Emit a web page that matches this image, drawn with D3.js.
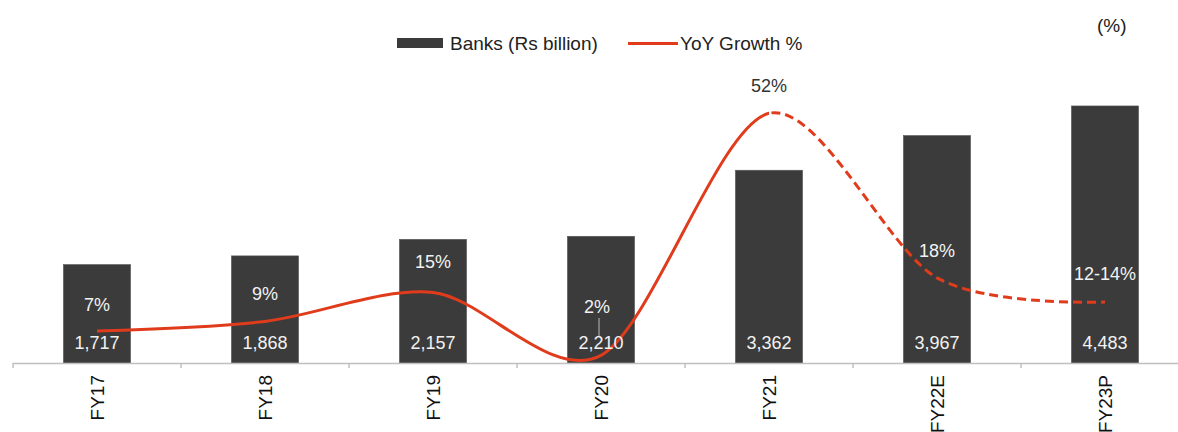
<!DOCTYPE html>
<html>
<head>
<meta charset="utf-8">
<script src="https://cdn.jsdelivr.net/npm/d3@7"></script>
<style>
  body { margin: 0; background: #fff; }
  svg text { font-family: "Liberation Sans", Arial, sans-serif; }
</style>
</head>
<body>
<svg id="chart" width="1178" height="432"></svg>
<script>
var categories = ["FY17", "FY18", "FY19", "FY20", "FY21", "FY22E", "FY23P"];
var banks = [1717, 1868, 2157, 2210, 3362, 3967, 4483];
var growth = [7, 9, 15, 2, 52, 18, 13];
var growthLabels = ["7%", "9%", "15%", "2%", "52%", "18%", "12-14%"];

var barColor = "#3b3b3b";
var lineColor = "#e03c1c";

var svg = d3.select("svg#chart");
var baseY = 363;

// x scale over categories
var x = d3.scaleBand()
  .domain(categories)
  .range([13, 1189])
  .paddingInner(0.6)
  .paddingOuter(0.3);
var step = x.step();
function cx(c) { return x(c) + x.bandwidth() / 2; }

// left (bars) and right (growth) scales
var y = d3.scaleLinear().domain([0, 5000]).range([baseY, 76.3]);
var y2 = d3.scaleLinear().domain([0, 60]).range([365, 74.6]);

// bars
svg.append("g")
  .selectAll("rect")
  .data(categories)
  .enter()
  .append("rect")
  .attr("x", function(d) { return x(d); })
  .attr("y", function(d, i) { return y(banks[i]); })
  .attr("width", x.bandwidth())
  .attr("height", function(d, i) { return baseY - y(banks[i]); })
  .attr("fill", barColor)
  .attr("stroke", "#5a5a5a")
  .attr("stroke-width", 0.6);

// axis line + ticks between categories
var axis = svg.append("g");
axis.append("line")
  .attr("x1", 13).attr("x2", 1178)
  .attr("y1", baseY + 0.5).attr("y2", baseY + 0.5)
  .attr("stroke", "#bfbfbf").attr("stroke-width", 1.5);
axis.selectAll("line.tick")
  .data(categories)
  .enter()
  .append("line")
  .attr("class", "tick")
  .attr("x1", function(d) { return cx(d) - step / 2; })
  .attr("x2", function(d) { return cx(d) - step / 2; })
  .attr("y1", baseY).attr("y2", baseY + 5)
  .attr("stroke", "#bfbfbf").attr("stroke-width", 1.5);

// category labels (rotated)
axis.selectAll("text")
  .data(categories)
  .enter()
  .append("text")
  .attr("transform", function(d) {
    return "translate(" + (cx(d) + 7) + "," + 375 + ") rotate(-90)";
  })
  .attr("text-anchor", "end")
  .style("font-size", "19px")
  .attr("fill", "#111")
  .text(function(d) { return d; });

// growth line: solid up to FY21, dashed after
var pts = categories.map(function(c, i) { return [cx(c), y2(growth[i])]; });
var line = d3.line().curve(d3.curveCardinal.tension(0.1));
var splitX = cx("FY21");

var defs = svg.append("defs");
defs.append("clipPath").attr("id", "clipSolid")
  .append("rect").attr("x", 0).attr("y", 0).attr("width", splitX).attr("height", 432);
defs.append("clipPath").attr("id", "clipDash")
  .append("rect").attr("x", splitX).attr("y", 0).attr("width", 1178 - splitX).attr("height", 432);

svg.append("path")
  .attr("d", line(pts))
  .attr("fill", "none")
  .attr("stroke", lineColor)
  .attr("stroke-width", 3)
  .attr("clip-path", "url(#clipSolid)");

svg.append("path")
  .attr("d", line(pts))
  .attr("fill", "none")
  .attr("stroke", lineColor)
  .attr("stroke-width", 3)
  .attr("stroke-dasharray", "9,5")
  .attr("clip-path", "url(#clipDash)");

// value labels inside bars
svg.append("g")
  .selectAll("text")
  .data(categories)
  .enter()
  .append("text")
  .attr("x", function(d) { return cx(d); })
  .attr("y", 349)
  .attr("text-anchor", "middle")
  .style("font-size", "18px")
  .attr("fill", "#f2f2f2")
  .text(function(d, i) { return d3.format(",")(banks[i]); });

// growth labels
var pctY = [305, 294, 262, 307, 86, 251, 274];
var pctDx = [0, 0, 0, -4, 0, 0, 0];
svg.append("g")
  .selectAll("text")
  .data(categories)
  .enter()
  .append("text")
  .attr("x", function(d, i) { return cx(d) + pctDx[i]; })
  .attr("y", function(d, i) { return pctY[i] + 6; })
  .attr("text-anchor", "middle")
  .style("font-size", "18px")
  .attr("fill", function(d, i) { return i === 4 ? "#333" : "#f2f2f2"; })
  .text(function(d, i) { return growthLabels[i]; });

// leader line for FY20 label
svg.append("line")
  .attr("x1", cx("FY20") - 2).attr("x2", cx("FY20") - 2)
  .attr("y1", 318).attr("y2", 336)
  .attr("stroke", "#bbb").attr("stroke-width", 1);

// legend
var legend = svg.append("g");
legend.append("rect")
  .attr("x", 397).attr("y", 38)
  .attr("width", 46).attr("height", 10)
  .attr("fill", barColor);
legend.append("text")
  .attr("x", 450).attr("y", 50)
  .style("font-size", "19px")
  .attr("fill", "#222")
  .text("Banks (Rs billion)");
legend.append("line")
  .attr("x1", 628).attr("x2", 678)
  .attr("y1", 43.5).attr("y2", 43.5)
  .attr("stroke", lineColor).attr("stroke-width", 3);
legend.append("text")
  .attr("x", 680).attr("y", 50)
  .style("font-size", "19px")
  .attr("fill", "#222")
  .text("YoY Growth %");

svg.append("text")
  .attr("x", 1097).attr("y", 32)
  .style("font-size", "19px")
  .attr("fill", "#222")
  .text("(%)");
</script>
</body>
</html>
